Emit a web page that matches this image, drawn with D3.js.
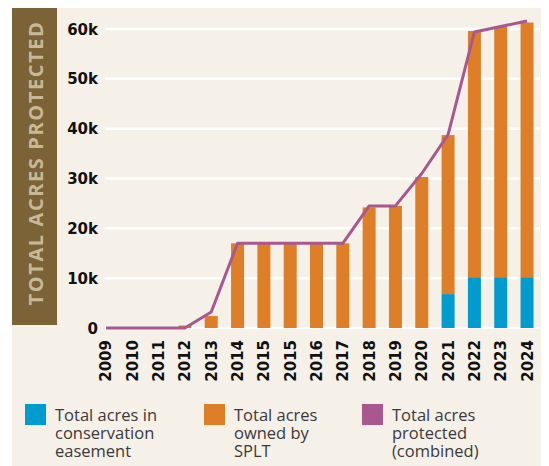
<!DOCTYPE html>
<html>
<head>
<meta charset="utf-8">
<script src="https://cdn.jsdelivr.net/npm/d3@7"></script>
<style>
  body { margin: 0; background: #ffffff; }
</style>
</head>
<body>
<svg id="chart"></svg>
<script>
const years = ["2009", "2010", "2011", "2012", "2013", "2014", "2015", "2015", "2016", "2017", "2018", "2019", "2020", "2021", "2022", "2023", "2024"];
const easement = [0, 0, 0, 0, 0, 0, 0, 0, 0, 0, 0, 0, 0, 6800, 10200, 10200, 10200];
const owned = [0, 0, 0, 500, 2400, 17000, 17000, 17000, 17000, 17000, 24200, 24500, 30300, 31900, 49400, 50400, 51100];
const combined = [0, 0, 0, 0, 3200, 17000, 17000, 17000, 17000, 17000, 24500, 24500, 31000, 38800, 59400, 60500, 61600];
const yTicks = [0, 10000, 20000, 30000, 40000, 50000, 60000];
const legendItems = [
  { lines: ["Total acres in", "conservation", "easement"], color: "#009ccf" },
  { lines: ["Total acres", "owned by", "SPLT"], color: "#de7f27" },
  { lines: ["Total acres", "protected", "(combined)"], color: "#a8588f" }
];

const width = 549;
const height = 466;

const svg = d3.select("#chart").attr("width", width).attr("height", height);

// cream panel
svg
  .append("rect")
  .attr("x", 12)
  .attr("y", 8)
  .attr("width", 529)
  .attr("height", 458)
  .attr("fill", "#f5f0e8");

// brown axis title box
svg
  .append("rect")
  .attr("x", 12)
  .attr("y", 8)
  .attr("width", 45)
  .attr("height", 317)
  .attr("fill", "#7c6237");

svg
  .append("text")
  .attr("transform", "translate(42.5,163) rotate(-90)")
  .attr("text-anchor", "middle")
  .attr("font-family", "'Open Sans', sans-serif")
  .attr("font-size", "20")
  .attr("font-weight", "bold")
  .attr("letter-spacing", "1.6")
  .attr("fill", "#c8b996")
  .text("TOTAL ACRES PROTECTED");

const idx = d3.range(years.length);

const x = d3
  .scaleBand()
  .domain(idx)
  .range([92.8, 540.2])
  .paddingInner(0.5)
  .paddingOuter(0.25);

const y = d3.scaleLinear().domain([0, 60000]).range([328, 29]);

// gridlines
svg
  .append("g")
  .selectAll("line")
  .data(yTicks)
  .join("line")
  .attr("x1", 105)
  .attr("x2", 540)
  .attr("y1", (d) => y(d))
  .attr("y2", (d) => y(d))
  .attr("stroke", "#ffffff")
  .attr("stroke-width", 2.5);

// y tick labels
svg
  .append("g")
  .selectAll("text")
  .data(yTicks)
  .join("text")
  .attr("x", 98)
  .attr("y", (d) => y(d) + 5.5)
  .attr("text-anchor", "end")
  .attr("font-family", "'DejaVu Sans', sans-serif")
  .attr("font-size", "15")
  .attr("font-weight", "bold")
  .attr("fill", "#111")
  .text((d) => (d === 0 ? "0" : d / 1000 + "k"));

// stacked bars
const bw = 13;
svg
  .append("g")
  .selectAll("rect")
  .data(idx)
  .join("rect")
  .attr("x", (i) => x(i) + x.bandwidth() / 2 - bw / 2)
  .attr("y", (i) => y(easement[i]))
  .attr("width", bw)
  .attr("height", (i) => y(0) - y(easement[i]))
  .attr("fill", legendItems[0].color);

svg
  .append("g")
  .selectAll("rect")
  .data(idx)
  .join("rect")
  .attr("x", (i) => x(i) + x.bandwidth() / 2 - bw / 2)
  .attr("y", (i) => y(easement[i] + owned[i]))
  .attr("width", bw)
  .attr("height", (i) => y(easement[i]) - y(easement[i] + owned[i]))
  .attr("fill", legendItems[1].color);

// combined line
const line = d3
  .line()
  .x((i) => x(i) + x.bandwidth() / 2)
  .y((i) => y(combined[i]));

svg
  .append("path")
  .attr("d", line(idx))
  .attr("fill", "none")
  .attr("stroke", legendItems[2].color)
  .attr("stroke-width", 3)
  .attr("stroke-linejoin", "round");

// x labels
svg
  .append("g")
  .selectAll("text")
  .data(idx)
  .join("text")
  .attr("transform", (i) => `translate(${x(i) + x.bandwidth() / 2 + 5.5},340) rotate(-90)`)
  .attr("text-anchor", "end")
  .attr("font-family", "'DejaVu Sans', sans-serif")
  .attr("font-size", "15")
  .attr("font-weight", "bold")
  .attr("fill", "#111")
  .text((i) => years[i]);

// legend
const legendX = [25, 204, 362];
const lg = svg
  .append("g")
  .selectAll("g")
  .data(legendItems)
  .join("g")
  .attr("transform", (d, i) => `translate(${legendX[i]},404)`);

lg.append("rect")
  .attr("width", 21)
  .attr("height", 21)
  .attr("fill", (d) => d.color);

lg.append("text")
  .attr("font-family", "'Open Sans', sans-serif")
  .attr("font-size", "16.5")
  .attr("fill", "#3a3a3a")
  .selectAll("tspan")
  .data((d) => d.lines)
  .join("tspan")
  .attr("x", 30)
  .attr("y", (d, i) => 17 + i * 18);
lg.selectAll("tspan").text((d) => d);
</script>
</body>
</html>
